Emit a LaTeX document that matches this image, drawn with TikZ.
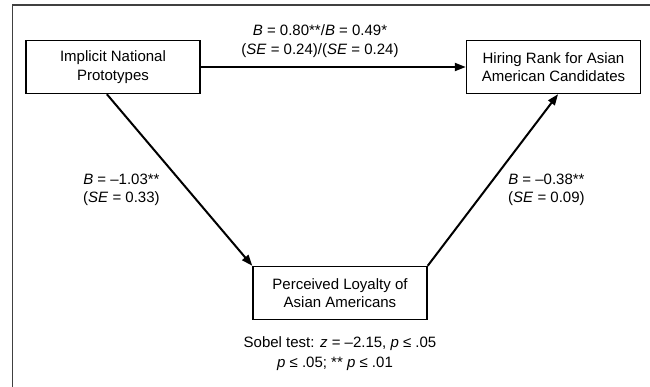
\documentclass[tikz,border=0pt]{standalone}
\usepackage{fontspec}
\setmainfont{Liberation Sans}
\usetikzlibrary{arrows.meta,calc}
\begin{document}
\begin{tikzpicture}[x=1pt,y=-1pt,
  box/.style={draw=black,line width=1.4pt,minimum width=174pt,minimum height=53pt,inner sep=0pt,align=center,font=\fontsize{15}{18.5}\selectfont},
  lbl/.style={inner sep=0pt,align=center,font=\fontsize{15}{18.5}\selectfont},
  conn/.style={line width=2pt,-{Triangle[length=11pt,width=8pt]}},
  frame/.style={draw=black!75,line width=1.3pt}]
\useasboundingbox (0,0) rectangle (650,387);
\coordinate (f1) at (12.5,387);
\coordinate (f2) at (12.5,5);
\coordinate (f3) at (650,5);
\draw[frame] (f1) -- (f2) -- (f3);
\node[box] (A) at (113,67) {Implicit National\\Prototypes};
\node[box] (H) at (553.5,67) {Hiring Rank for Asian\\American Candidates};
\node[box] (L) at (340,293) {Perceived Loyalty of\\Asian Americans};
\coordinate (As) at ($(A.south west)!0.465!(A.south east)$);
\coordinate (Hs) at ($(H.south west)!0.526!(H.south east)$);
\draw[conn] (A.east) -- (H.west);
\draw[conn] (As) -- (L.north west);
\draw[conn] (L.north east) -- (Hs);
\node[lbl] (t1) at (320,41) {\textit{B} = 0.80**/\textit{B} = 0.49*\\(\textit{SE} = 0.24)/(\textit{SE} = 0.24)};
\node[lbl,anchor=west] (t2) at (83,190) {\textit{B} = –1.03**\\(\textit{SE} = 0.33)};
\node[lbl,anchor=west] (t3) at (508,190) {\textit{B} = –0.38**\\(\textit{SE} = 0.09)};
\node[lbl] (t4) at (340,344) {Sobel test: \textit{z} = –2.15, \textit{p} ≤ .05};
\node[lbl] (t5) at (335,364) {\textit{p} ≤ .05; ** \textit{p} ≤ .01};
\end{tikzpicture}
\end{document}
